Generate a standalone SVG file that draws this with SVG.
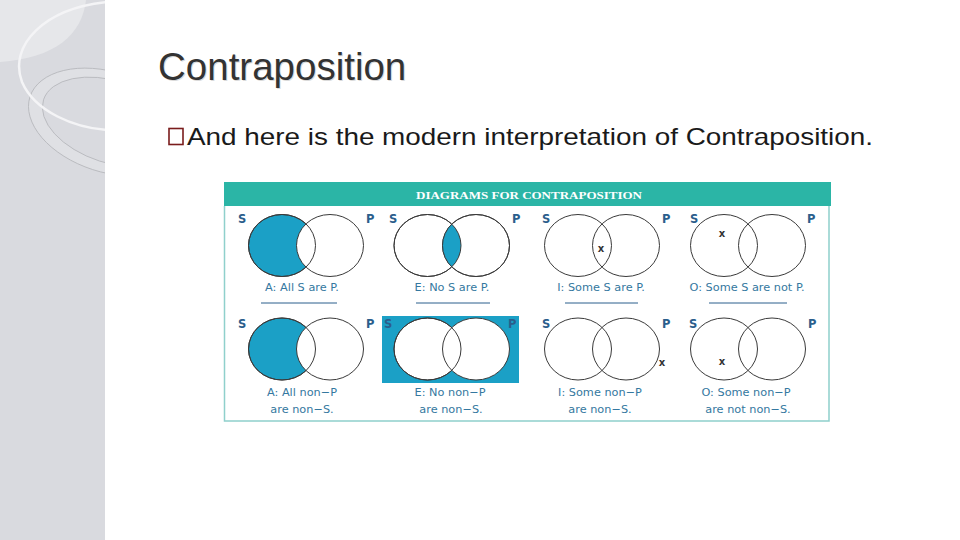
<svg xmlns="http://www.w3.org/2000/svg" width="960" height="540" viewBox="0 0 960 540">
<defs>
<style>
.venn{fill:#ffffff;stroke:#3a3a3a;stroke-width:1}
.vs{fill:none;stroke:#3a3a3a;stroke-width:1}
.lab{font-family:"DejaVu Sans",sans-serif;font-size:11.5px;font-weight:bold;fill:#2b5e8c}
.cap{font-family:"DejaVu Sans",sans-serif;font-size:11.3px;fill:#3478a0;text-anchor:middle}
.xm{font-family:"DejaVu Sans",sans-serif;font-size:10px;font-weight:bold;fill:#333333;text-anchor:middle}
.ul{stroke:#2b5e8c;stroke-width:1}
</style>
<clipPath id="sidebar"><rect x="0" y="0" width="105" height="540"/></clipPath>
<clipPath id="p2"><ellipse cx="476" cy="245.5" rx="33.5" ry="31"/></clipPath>
</defs>
<rect x="0" y="0" width="960" height="540" fill="#ffffff"/>
<g id="sidebar-bg" clip-path="url(#sidebar)">
<rect x="0" y="0" width="105" height="540" fill="#d9dadf"/>
<path d="M0,0 H86 C82,35 55,58 0,62 Z" fill="#e6e7ea"/>
<ellipse cx="108" cy="122" rx="82" ry="50" transform="rotate(18 108 122)" fill="#dfe0e4" stroke="#b5b6bb" stroke-width="0.8"/>
<ellipse cx="112" cy="122" rx="72" ry="41" transform="rotate(18 112 122)" fill="#d9dadf" stroke="#b5b6bb" stroke-width="0.8"/>
<path d="M108,2 C45,8 8,45 22,82 C35,112 75,128 108,130" fill="none" stroke="#f4f4f6" stroke-width="2.5"/>
</g>
<g id="title">
<text x="159" y="81" font-family="Liberation Sans,Arial,sans-serif" font-size="38.5" fill="#dadada">Contraposition</text>
<text x="158" y="80" font-family="Liberation Sans,Arial,sans-serif" font-size="38.5" fill="#333333">Contraposition</text>
</g>
<g id="bullet">
<rect x="169" y="128.5" width="14" height="16" fill="none" stroke="#7a1c1c" stroke-width="1.6"/>
<text x="187" y="145" font-family="Liberation Sans,Arial,sans-serif" font-size="24" fill="#1a1a1a" textLength="686" lengthAdjust="spacingAndGlyphs">And here is the modern interpretation of Contraposition.</text>
</g>
<g id="panel">
<rect x="224" y="206" width="605" height="215" fill="#ffffff"/>
<rect x="224" y="182" width="607" height="24" fill="#2bb5a6"/>
<path d="M224.5,206 V421 H829 V206" fill="none" stroke="#8fd0cc" stroke-width="1.5"/>
<text x="416" y="199" font-family="Liberation Serif,serif" font-weight="bold" font-size="11" fill="#ffffff" textLength="226" lengthAdjust="spacingAndGlyphs">DIAGRAMS FOR CONTRAPOSITION</text>
</g>
<g id="cell-A">
<ellipse cx="282" cy="245.5" rx="33.5" ry="31" fill="#1ba0c6" stroke="#3a3a3a"/>
<ellipse class="venn" cx="330" cy="245.5" rx="33.5" ry="31"/>
<ellipse class="vs" cx="282" cy="245.5" rx="33.5" ry="31"/>
<text class="lab" x="238" y="223">S</text>
<text class="lab" x="366" y="223">P</text>
<text class="cap" x="302" y="291">A: All S are P.</text>
<line class="ul" x1="261" y1="303" x2="337" y2="303"/>
</g>
<g id="cell-E">
<ellipse class="venn" cx="427.5" cy="245.5" rx="33.5" ry="31"/>
<ellipse class="venn" cx="476" cy="245.5" rx="33.5" ry="31"/>
<ellipse cx="427.5" cy="245.5" rx="33.5" ry="31" fill="#1ba0c6" clip-path="url(#p2)"/>
<ellipse class="vs" cx="427.5" cy="245.5" rx="33.5" ry="31"/>
<ellipse class="vs" cx="476" cy="245.5" rx="33.5" ry="31"/>
<text class="lab" x="389" y="223">S</text>
<text class="lab" x="512" y="223">P</text>
<text class="cap" x="452" y="291">E: No S are P.</text>
<line class="ul" x1="416" y1="303" x2="490" y2="303"/>
</g>
<g id="cell-I">
<ellipse class="venn" cx="578" cy="245.5" rx="33.5" ry="31"/>
<ellipse class="vs" cx="626" cy="245.5" rx="33.5" ry="31"/>
<text class="lab" x="542" y="223">S</text>
<text class="lab" x="662" y="223">P</text>
<text class="xm" x="601" y="252">x</text>
<text class="cap" x="601" y="291">I: Some S are P.</text>
<line class="ul" x1="565" y1="303" x2="638" y2="303"/>
</g>
<g id="cell-O">
<ellipse class="venn" cx="724" cy="245.5" rx="33.5" ry="31"/>
<ellipse class="vs" cx="772" cy="245.5" rx="33.5" ry="31"/>
<text class="lab" x="690" y="223">S</text>
<text class="lab" x="807" y="223">P</text>
<text class="xm" x="722" y="237">x</text>
<text class="cap" x="747" y="291">O: Some S are not P.</text>
<line class="ul" x1="709" y1="303" x2="787" y2="303"/>
</g>
<g id="cell-A2">
<ellipse cx="282" cy="349" rx="33.5" ry="31" fill="#1ba0c6" stroke="#3a3a3a"/>
<ellipse class="venn" cx="330" cy="349" rx="33.5" ry="31"/>
<ellipse class="vs" cx="282" cy="349" rx="33.5" ry="31"/>
<text class="lab" x="238" y="328">S</text>
<text class="lab" x="366" y="328">P</text>
<text class="cap" x="302" y="396">A: All non−P</text>
<text class="cap" x="302" y="413">are non−S.</text>
</g>
<g id="cell-E2">
<rect x="382" y="316" width="137" height="67" fill="#1ba0c6"/>
<ellipse class="venn" cx="427.5" cy="349" rx="33.5" ry="31"/>
<ellipse class="venn" cx="476" cy="349" rx="33.5" ry="31"/>
<ellipse class="vs" cx="427.5" cy="349" rx="33.5" ry="31"/>
<text class="lab" x="384" y="328">S</text>
<text class="lab" x="508" y="328">P</text>
<text class="cap" x="450" y="396">E: No non−P</text>
<text class="cap" x="451" y="413">are non−S.</text>
</g>
<g id="cell-I2">
<ellipse class="venn" cx="578" cy="349" rx="33.5" ry="31"/>
<ellipse class="vs" cx="626" cy="349" rx="33.5" ry="31"/>
<text class="lab" x="542" y="328">S</text>
<text class="lab" x="662" y="328">P</text>
<text class="xm" x="662" y="366">x</text>
<text class="cap" x="600" y="396">I: Some non−P</text>
<text class="cap" x="600" y="413">are non−S.</text>
</g>
<g id="cell-O2">
<ellipse class="venn" cx="724" cy="349" rx="33.5" ry="31"/>
<ellipse class="vs" cx="772" cy="349" rx="33.5" ry="31"/>
<text class="lab" x="689" y="328">S</text>
<text class="lab" x="808" y="328">P</text>
<text class="xm" x="722" y="365">x</text>
<text class="cap" x="746" y="396">O: Some non−P</text>
<text class="cap" x="748" y="413">are not non−S.</text>
</g>
<g id="connectors"></g>
</svg>
